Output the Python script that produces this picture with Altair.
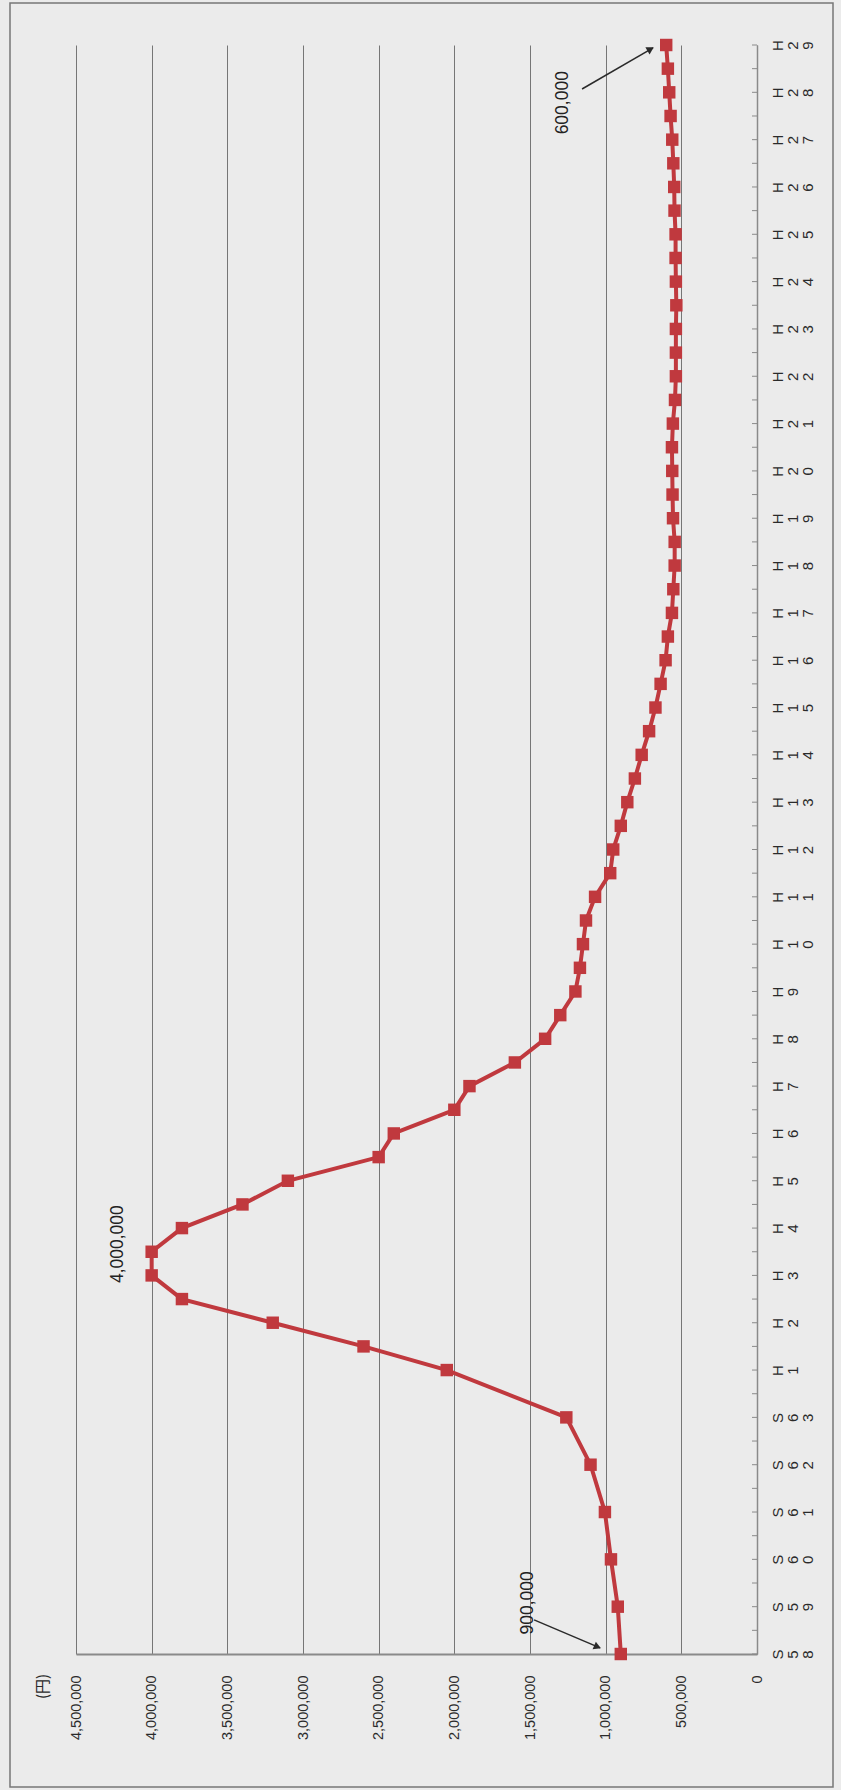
import altair as alt
import pandas as pd

# ---- data (year as decimal; S58=1983 ... H1=1989, half-year steps from H1) ----
years = [1983, 1984, 1985, 1986, 1987, 1988,
         1989, 1989.5, 1990, 1990.5, 1991, 1991.5, 1992, 1992.5, 1993, 1993.5,
         1994, 1994.5, 1995, 1995.5, 1996, 1996.5, 1997, 1997.5, 1998, 1998.5,
         1999, 1999.5, 2000, 2000.5, 2001, 2001.5, 2002, 2002.5, 2003, 2003.5,
         2004, 2004.5, 2005, 2005.5, 2006, 2006.5, 2007, 2007.5, 2008, 2008.5,
         2009, 2009.5, 2010, 2010.5, 2011, 2011.5, 2012, 2012.5, 2013, 2013.5,
         2014, 2014.5, 2015, 2015.5, 2016, 2016.5, 2017]
values = [900000, 920000, 965000, 1005000, 1100000, 1260000,
          2050000, 2600000, 3200000, 3800000, 4000000, 4000000, 3800000, 3400000, 3100000, 2500000,
          2400000, 2000000, 1900000, 1600000, 1400000, 1300000, 1200000, 1170000, 1150000, 1130000,
          1070000, 970000, 950000, 900000, 857000, 807000, 762000, 713000, 671000, 637000,
          604000, 589000, 562000, 553000, 544000, 544000, 555000, 558000, 560000, 562000,
          556000, 542000, 536000, 536000, 536000, 533000, 536000, 538000, 538000, 545000,
          547000, 553000, 560000, 571000, 580000, 589000, 600000]

value_ticks = [0, 500000, 1000000, 1500000, 2000000, 2500000, 3000000, 3500000, 4000000, 4500000]
label_years = list(range(1983, 2018))
tick_years = [1983 + 0.5 * i for i in range(69)]

ann_labels = ["900,000", "4,000,000", "600,000"]
ann_values = [1510000, 4220000, 1281000]
ann_years = [1984.08, 1991.66, 2015.78]

arrow_x1 = [1473000, 1156000]
arrow_y1 = [1983.72, 2016.07]
arrow_x2 = [1037000, 687000]
arrow_y2 = [1983.13, 2016.94]
head_x = [1061000, 710000]
head_y = [1983.16, 2016.90]
head_angle = [113, 60]

RED = "#c0393e"
W, H = 681, 1609

df = pd.DataFrame({"year": years, "value": values})
tick_df = pd.DataFrame({"year": tick_years})
ann_df = pd.DataFrame({"year": ann_years, "value": ann_values, "label": ann_labels})
arrow_df = pd.DataFrame({"value": arrow_x1, "year": arrow_y1, "value2": arrow_x2, "year2": arrow_y2})
head_df = pd.DataFrame({"value": head_x, "year": head_y, "angle": head_angle})

x_enc = alt.X(
    "value:Q",
    scale=alt.Scale(domain=[0, 4500000], reverse=True, nice=False),
    axis=alt.Axis(
        values=value_ticks, labelExpr="format(datum.value, ',')", labelAngle=270, labelAlign="right",
        labelBaseline="middle", labelPadding=21, ticks=False, tickSize=0,
        domainColor="#8a8a8a", domainWidth=2, gridColor="#767676", gridWidth=1,
        labelFont="Liberation Sans", labelFontSize=14.5, labelColor="#2a2a2a",
        title="(円)", titleAngle=270, titleX=-34, titleY=32, titleAlign="center",
        titleBaseline="middle", titleFont="Noto Sans CJK JP", titleFontSize=15,
        titleFontWeight="normal", titleColor="#2a2a2a",
    ),
)
y_enc = alt.Y(
    "year:Q",
    scale=alt.Scale(domain=[1983, 2017], nice=False, zero=False),
    axis=alt.Axis(
        orient="right", values=label_years,
        labelExpr="datum.value < 1989 ? split('S' + (datum.value - 1925), '') : split('H' + (datum.value - 1988), '')",
        labelAngle=270, labelAlign="center", labelBaseline="top", labelPadding=13,
        labelLineHeight=15, ticks=False, tickSize=0, grid=False,
        domainColor="#8a8a8a", domainWidth=1.5, labelOverlap=False,
        labelFont="Liberation Sans", labelFontSize=15, labelColor="#2a2a2a", title=None,
    ),
)

line = alt.Chart(df).mark_line(color=RED, strokeWidth=4).encode(x=x_enc, y=y_enc, order="year:Q")
pts = alt.Chart(df).mark_point(shape="square", filled=True, size=155, color=RED, opacity=1).encode(x=x_enc, y=y_enc)
ticks = alt.Chart(tick_df).mark_rule(color="#8a8a8a", strokeWidth=1).encode(
    y=y_enc, x=alt.value(W - 5), x2=alt.value(W))
ann = alt.Chart(ann_df).mark_text(angle=270, align="center", baseline="middle",
                                  font="Liberation Sans", fontSize=17.5, color="#222222").encode(
    x=x_enc, y=y_enc, text="label:N")
arrows = alt.Chart(arrow_df).mark_rule(color="#2a2a2a", strokeWidth=1.5).encode(
    x=x_enc, y=y_enc, x2="value2:Q", y2="year2:Q")
heads = alt.Chart(head_df).mark_point(shape="triangle", filled=True, size=70, color="#2a2a2a", opacity=1).encode(
    x=x_enc, y=y_enc, angle=alt.Angle("angle:Q", scale=None))
frame = alt.Chart(pd.DataFrame({"a": [0]})).mark_rect(fill="transparent", stroke="#777777", strokeWidth=1.5).encode(
    x=alt.value(-66), x2=alt.value(757), y=alt.value(-42), y2=alt.value(1742))

chart = alt.layer(frame, ticks, line, pts, arrows, heads, ann).properties(
    width=W, height=H,
    autosize=alt.AutoSizeParams(type="none"),
    padding={"left": 76, "top": 45, "right": 84, "bottom": 136},
    background="#ebebeb",
).configure_view(stroke=None)

chart.save("out.html", embed_options={"renderer": "svg", "actions": False})
